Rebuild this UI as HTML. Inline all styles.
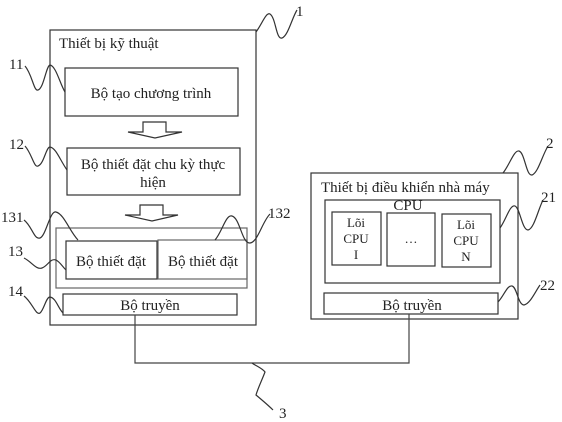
<!DOCTYPE html>
<html><head><meta charset="utf-8"><style>
html,body{margin:0;padding:0;background:#fff;}
svg{display:block;}
text{font-family:"Liberation Serif",serif;fill:#222;}
</style></head><body>
<svg width="562" height="422" viewBox="0 0 562 422" xmlns="http://www.w3.org/2000/svg">
<g fill="none" stroke="#333" stroke-width="1.2">
<rect x="50" y="30" width="206" height="295"/>
<rect x="65" y="68" width="173" height="48"/>
<path d="M143,122 H166 V132 H182 L155,138 L128,132 H143 Z"/>
<rect x="67" y="148" width="173" height="47"/>
<path d="M140,205 H163 V215 H178 L152,221 L125,215 H140 Z"/>
<rect x="56" y="228" width="191" height="60" stroke="#666"/>
<rect x="66" y="241" width="91" height="38"/>
<rect x="158" y="240" width="89" height="39" stroke="#666"/>
<rect x="63" y="294" width="174" height="21"/>
<rect x="311" y="173" width="207" height="146"/>
<rect x="325" y="200" width="175" height="83"/>
<rect x="332" y="212" width="49" height="53"/>
<rect x="387" y="213" width="48" height="53"/>
<rect x="442" y="214" width="49" height="53"/>
<rect x="324" y="293" width="174" height="21"/>
<path d="M135,315 V363 H409 V314" stroke="#444"/>
<path d="M256,32 C262,24 266,12 270,14 C276,18 276,40 282,38 C288,36 292,18 297,10"/>
<path d="M25,66 C32,74 34,92 38,90 C44,88 46,66 50,65 C56,66 60,84 65,92"/>
<path d="M25,146 C32,154 34,168 38,166 C44,164 46,147 50,147 C56,148 60,160 67,170"/>
<path d="M24,220 C32,226 34,240 40,238 C46,236 50,210 56,212 C64,214 70,232 78,240"/>
<path d="M24,258 C32,262 36,270 42,268 C48,266 50,258 56,260 C60,262 62,266 66,270"/>
<path d="M24,296 C32,302 36,316 40,313 C44,310 46,297 50,297 C56,298 58,308 63,313"/>
<path d="M215,240 C222,232 226,214 232,216 C240,218 242,244 250,243 C258,242 262,222 270,214"/>
<path d="M503,173 C510,164 514,150 519,151 C525,153 526,176 532,175 C538,173 542,156 548,146"/>
<path d="M500,228 C506,220 510,204 515,206 C520,208 522,230 528,230 C534,229 538,210 543,200"/>
<path d="M498,302 C504,296 507,285 512,286 C517,287 518,305 524,305 C530,304 535,292 540,285"/>
<path d="M252,363 C256,366 262,368 265,372 C262,380 258,388 256,395 C262,400 268,405 273,410"/>
</g>
<g font-size="15">
<text x="59" y="48">Thiết bị kỹ thuật</text>
<text x="151" y="98" text-anchor="middle">Bộ tạo chương trình</text>
<text x="153" y="169" text-anchor="middle">Bộ thiết đặt chu kỳ thực</text>
<text x="153" y="187" text-anchor="middle">hiện</text>
<text x="111" y="266" text-anchor="middle">Bộ thiết đặt</text>
<text x="203" y="266" text-anchor="middle">Bộ thiết đặt</text>
<text x="150" y="310" text-anchor="middle">Bộ truyền</text>
<text x="321" y="192">Thiết bị điều khiển nhà máy</text>
<text x="408" y="210" text-anchor="middle">CPU</text>
<text x="412" y="310" text-anchor="middle">Bộ truyền</text>
</g>
<g font-size="13" text-anchor="middle">
<text x="356" y="227">Lõi</text>
<text x="356" y="243">CPU</text>
<text x="356" y="259">I</text>
<text x="411" y="243">…</text>
<text x="466" y="229">Lõi</text>
<text x="466" y="245">CPU</text>
<text x="466" y="261">N</text>
</g>
<g font-size="15">
<text x="296" y="16">1</text>
<text x="546" y="148">2</text>
<text x="541" y="202">21</text>
<text x="540" y="290">22</text>
<text x="9" y="69">11</text>
<text x="9" y="149">12</text>
<text x="1" y="222">131</text>
<text x="268" y="218">132</text>
<text x="8" y="256">13</text>
<text x="8" y="296">14</text>
<text x="279" y="418">3</text>
</g>
</svg>
</body></html>
